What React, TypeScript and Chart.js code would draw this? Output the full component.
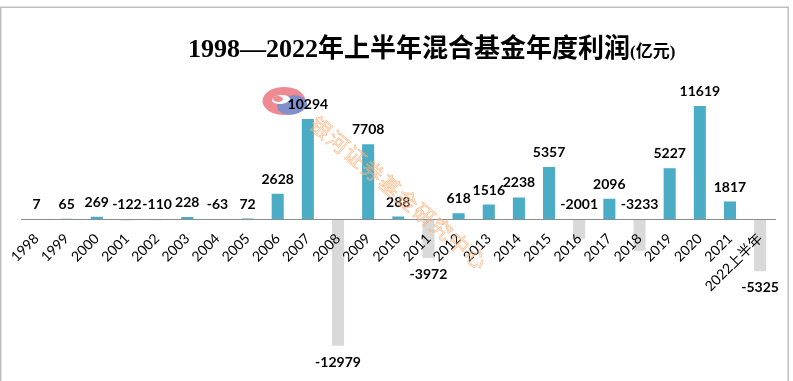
import React, { useEffect, useRef } from "react";
import { Chart, registerables } from "chart.js";

Chart.register(...registerables);

const categories = [
  "1998", "1999", "2000", "2001", "2002", "2003", "2004", "2005", "2006", "2007",
  "2008", "2009", "2010", "2011", "2012", "2013", "2014", "2015", "2016", "2017",
  "2018", "2019", "2020", "2021", "2022上半年",
];
const profits = [
  7, 65, 269, -122, -110, 228, -63, 72, 2628, 10294,
  -12979, 7708, 288, -3972, 618, 1516, 2238, 5357, -2001, 2096,
  -3233, 5227, 11619, 1817, -5325,
];
const titleMain = "1998—2022年上半年混合基金年度利润";
const titleUnit = "(亿元)";
const watermark = "银河证券基金研究中心";

const POS_COLOR = "#4BACC6";
const NEG_COLOR = "#D9D9D9";
const SMALL_NEG_LIMIT = -3500;

const framePlugin = {
  id: "frame",
  beforeDraw(chart: any) {
    const ctx = chart.ctx;
    ctx.save();
    ctx.fillStyle = "#ffffff";
    ctx.fillRect(0, 0, chart.width, chart.height);
    ctx.strokeStyle = "#BFBFBF";
    ctx.lineWidth = 1.5;
    ctx.beginPath();
    ctx.moveTo(0.75, chart.height);
    ctx.lineTo(0.75, 7.25);
    ctx.lineTo(788.25, 7.25);
    ctx.lineTo(788.25, chart.height);
    ctx.stroke();
    // logo (under everything else)
    ctx.fillStyle = "#F08A92";
    ctx.beginPath();
    ctx.ellipse(284, 101, 21.5, 14, 0, 0, Math.PI * 2);
    ctx.fill();
    ctx.fillStyle = "#7F8FCB";
    ctx.beginPath();
    ctx.ellipse(292, 105, 15, 9.5, -0.15, 0, Math.PI * 2);
    ctx.fill();
    ctx.fillStyle = "#ffffff";
    ctx.beginPath();
    ctx.ellipse(281, 99.5, 9, 4.5, -0.1, 0, Math.PI * 2);
    ctx.fill();
    ctx.fillStyle = "#F08A92";
    ctx.beginPath();
    ctx.ellipse(278, 99, 5, 3, 0, 0, Math.PI * 2);
    ctx.fill();
    ctx.restore();
  },
};

const titlePlugin = {
  id: "mixedTitle",
  afterDraw(chart: any) {
    const ctx = chart.ctx;
    ctx.save();
    ctx.fillStyle = "#000000";
    ctx.textBaseline = "alphabetic";
    ctx.textAlign = "left";
    ctx.font = "bold 26px 'Liberation Serif', 'Noto Sans CJK SC', serif";
    const x0 = 188;
    const base = 57;
    ctx.fillText(titleMain, x0, base);
    const w = ctx.measureText(titleMain).width;
    ctx.font = "bold 17px 'Liberation Serif', 'Noto Sans CJK SC', serif";
    ctx.fillText(titleUnit, x0 + w, base);
    ctx.restore();
  },
};

const dataLabelPlugin = {
  id: "valueLabels",
  afterDatasetsDraw(chart: any) {
    const ctx = chart.ctx;
    const meta = chart.getDatasetMeta(0);
    const zero = chart.scales.y.getPixelForValue(0);
    ctx.save();
    ctx.font = "bold 14px Lato, 'Liberation Sans', sans-serif";
    ctx.fillStyle = "#000000";
    ctx.textAlign = "center";
    ctx.textBaseline = "middle";
    meta.data.forEach((el: any, i: number) => {
      const v = profits[i];
      let y: number;
      if (v >= 0) y = el.y - 14.5;
      else if (v > SMALL_NEG_LIMIT) y = zero - 14.5;
      else y = el.y + 16.5;
      ctx.fillText(String(v), el.x, y);
    });
    ctx.restore();
  },
};

const watermarkPlugin = {
  id: "watermark",
  afterDraw(chart: any) {
    const ctx = chart.ctx;
    ctx.save();
    ctx.translate(313, 121);
    ctx.rotate((40 * Math.PI) / 180);
    ctx.font = "21px 'Noto Sans CJK SC', sans-serif";
    ctx.textBaseline = "middle";
    ctx.textAlign = "left";
    ctx.fillStyle = "rgba(252, 205, 165, 0.3)";
    ctx.strokeStyle = "rgba(248, 170, 110, 0.7)";
    ctx.lineWidth = 0.7;
    let x = 0;
    for (const ch of watermark) {
      ctx.fillText(ch, x, 0);
      ctx.strokeText(ch, x, 0);
      x += 22.5;
    }
    ctx.restore();
  },
};

export default function App() {
  const ref = useRef<HTMLCanvasElement | null>(null);
  useEffect(() => {
    if (!ref.current) return;
    const chart = new Chart(ref.current, {
      type: "bar",
      data: {
        labels: categories,
        datasets: [
          {
            data: profits,
            backgroundColor: profits.map((v) => (v >= 0 ? POS_COLOR : NEG_COLOR)),
            borderWidth: 0,
            barPercentage: 0.4,
            categoryPercentage: 1,
          },
        ],
      },
      options: {
        responsive: false,
        animation: false,
        layout: { padding: { left: 21.4, right: 17.8, top: 82.8, bottom: 25.2 } },
        plugins: {
          legend: { display: false },
          title: { display: false },
          tooltip: { enabled: false },
        },
        scales: {
          x: {
            position: { y: 0 } as any,
            offset: true,
            grid: { display: false, drawTicks: true, tickLength: 8 },
            border: { display: true, color: "#8C8C8C", width: 1, z: 1 } as any,
            ticks: {
              z: 1,
              autoSkip: false,
              maxRotation: 45,
              minRotation: 45,
              padding: 3,
              color: "#000000",
              font: { family: "Lato, 'Noto Sans CJK SC', sans-serif", size: 14 },
            } as any,
          },
          y: {
            display: false,
            min: -14000,
            max: 14000,
          },
        },
      },
      plugins: [framePlugin, dataLabelPlugin, watermarkPlugin, titlePlugin],
    });
    return () => chart.destroy();
  }, []);
  return (
    <div style={{ position: "absolute", left: 0, top: 0, width: 793, height: 381 }}>
      <canvas ref={ref} width={793} height={381} />
    </div>
  );
}
